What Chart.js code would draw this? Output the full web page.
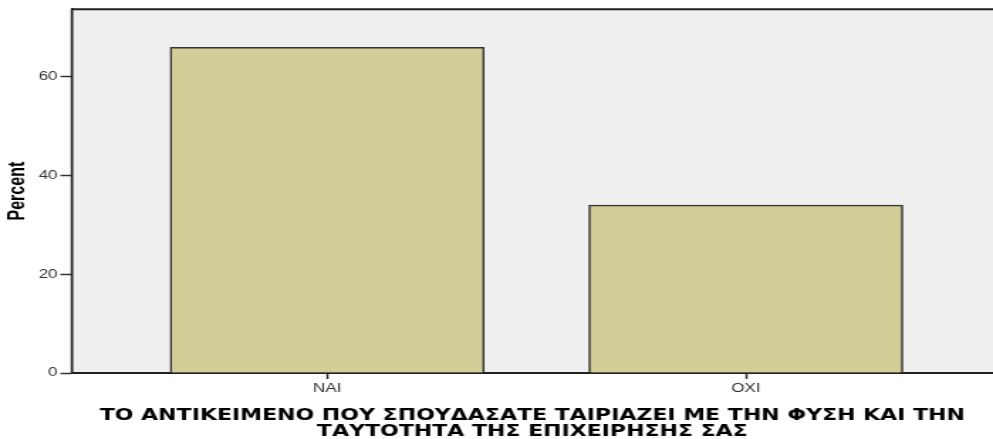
<!DOCTYPE html>
<html>
<head>
<meta charset="utf-8">
<script src="https://cdn.jsdelivr.net/npm/chart.js@4.4.1/dist/chart.umd.min.js"></script>
<style>
  html, body { margin: 0; padding: 0; background: #fff; }
</style>
</head>
<body>
<!-- la salida original esta estirada a lo ancho: se dibuja angosto y se ensancha con css -->
<canvas id="grafico" width="699" height="439" style="display:block;width:993px;height:439px"></canvas>
<script>
// datos
const categorias = ['ΝΑΙ', 'ΟΧΙ'];
const porcentajes = [66.0, 34.0];
const ticksY = [0, 20, 40, 60];
const tituloX = ['ΤΟ ΑΝΤΙΚΕΙΜΕΝΟ ΠΟΥ ΣΠΟΥΔΑΣΑΤΕ ΤΑΙΡΙΑΖΕΙ ΜΕ ΤΗΝ ΦΥΣΗ ΚΑΙ ΤΗΝ', 'ΤΑΥΤΟΤΗΤΑ ΤΗΣ ΕΠΙΧΕΙΡΗΣΗΣ ΣΑΣ'];
const tituloY = 'Percent';

// fondo gris del area y borde superior
const fondoArea = {
  id: 'fondoArea',
  beforeDraw(chart) {
    const {ctx, chartArea: a} = chart;
    ctx.save();
    ctx.fillStyle = '#efefef';
    ctx.fillRect(a.left, a.top, a.right - a.left, a.bottom - a.top);
    ctx.fillStyle = '#d4d4d4';
    ctx.fillRect(a.left - 1.6, a.top, 1.2, a.bottom - a.top);
    ctx.strokeStyle = '#222';
    ctx.lineWidth = 2;
    ctx.beginPath();
    ctx.moveTo(a.left, a.top);
    ctx.lineTo(a.right, a.top);
    ctx.stroke();
    ctx.restore();
  }
};

const grafico = document.getElementById('grafico');

new Chart(grafico, {
  type: 'bar',
  data: {
    datasets: [{
      label: tituloY,
      data: porcentajes.map((v, i) => ({x: i + 1, y: v})),
      backgroundColor: '#d3cd97',
      borderColor: '#333',
      borderWidth: 1.5,
      barThickness: 221
    }]
  },
  options: {
    responsive: false,
    animation: false,
    devicePixelRatio: 1,
    layout: { padding: { top: 8, right: 0, bottom: 0, left: 0 } },
    plugins: {
      legend: { display: false },
      tooltip: { enabled: false }
    },
    scales: {
      x: {
        type: 'linear',
        offset: false,
        min: 0.3899,
        max: 2.5904,
        afterFit: s => { s.height = 66; },
        afterBuildTicks: s => { s.ticks = categorias.map((c, i) => ({value: i + 1})); },
        grid: { offset: false, drawOnChartArea: false, drawTicks: true, tickLength: 6, tickColor: '#333', tickWidth: 1.5 },
        border: { display: true, color: '#222', width: 2 },
        ticks: {
          padding: 2,
          color: '#333',
          maxRotation: 0,
          autoSkip: false,
          font: { family: '"Liberation Sans", Arial, sans-serif', size: 12 },
          callback: v => categorias[v - 1]
        },
        title: {
          display: true,
          text: tituloX,
          color: '#000',
          padding: { top: 0, bottom: -0.7 },
          font: { family: '"DejaVu Sans", "Liberation Sans", sans-serif', size: 15.5, weight: 'bold', lineHeight: '16px' }
        }
      },
      y: {
        min: 0,
        max: 73.7,
        afterFit: s => { s.width = 50.5; },
        afterBuildTicks: s => { s.ticks = ticksY.map(v => ({value: v})); },
        grid: { drawOnChartArea: false, drawTicks: true, tickLength: 8, tickColor: '#333', tickWidth: 1.5 },
        border: { display: true, color: '#222', width: 1.5 },
        ticks: {
          padding: 2,
          color: '#333',
          font: { family: '"Liberation Sans", Arial, sans-serif', size: 12 }
        },
        title: {
          display: true,
          text: tituloY,
          color: '#000',
          padding: { top: 3, bottom: 2 },
          font: { family: '"Liberation Sans", Arial, sans-serif', size: 16, weight: 'bold' }
        }
      }
    }
  },
  plugins: [fondoArea]
});
</script>
</body>
</html>
